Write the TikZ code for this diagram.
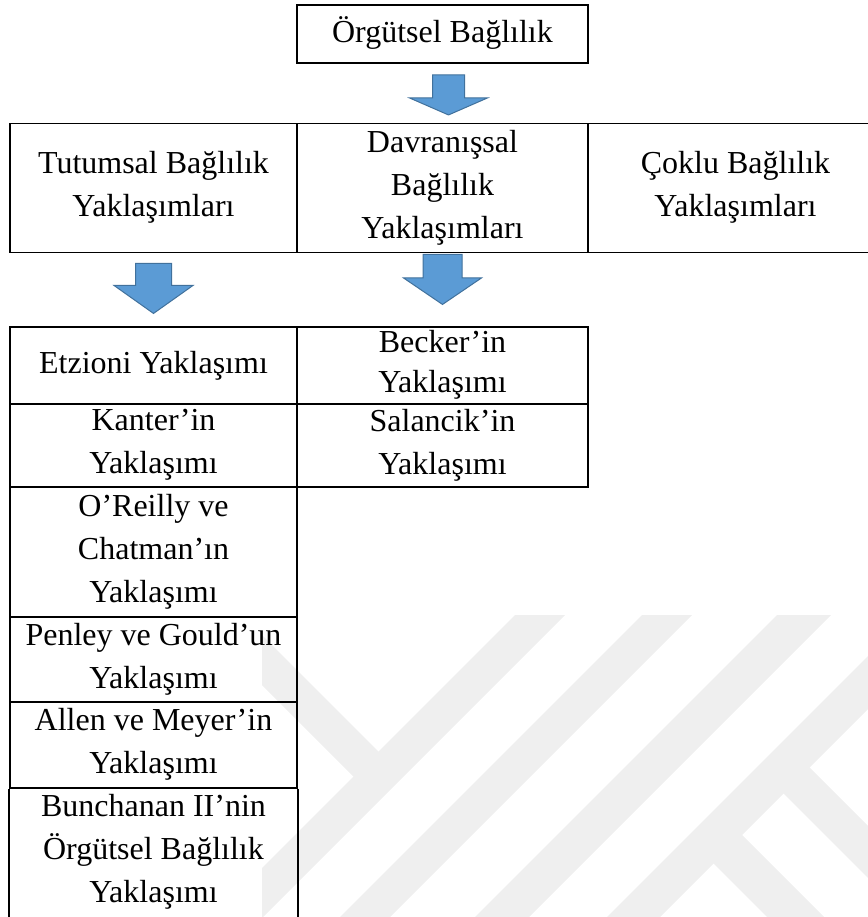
\documentclass[tikz,border=0pt]{standalone}
\usepackage{fontspec}
\setmainfont{Liberation Serif}
\usetikzlibrary{calc}
\definecolor{abfill}{HTML}{5B9BD5}
\definecolor{abline}{HTML}{41719C}
\definecolor{wmark}{HTML}{EFEFEF}
\newcommand\cstrut{\rule[-8pt]{0pt}{32pt}}
\newcommand\barrow[5]{\draw[barrowsty] ($(#1)+(-#2,0)$) -- ($(#1)+(#2,0)$) -- ($(#1)+(#2,#4)$) -- ($(#1)+(#3,#4)$) -- ($(#1)+(0,#5)$) -- ($(#1)+(-#3,#4)$) -- ($(#1)+(-#2,#4)$) -- cycle;}
\tikzset{
  txt/.style={inner sep=0pt, align=center, font=\fontsize{32}{43}\selectfont,
    execute at begin node=\cstrut, execute at end node=\cstrut},
  cell/.style={txt, draw=black, line width=1.9pt},
  tblline/.style={draw=black, line width=1.9pt},
  barrowsty/.style={fill=abfill, draw=abline, line width=1pt, line join=miter},
  wm/.style={fill=wmark, draw=none}
}
\begin{document}
\begin{tikzpicture}[x=1pt, y=-1pt]
\useasboundingbox (0,0) rectangle (867,917);
% watermark
\begin{scope}
\clip (262,612) rectangle (870,920);
\fill[wm] (515,615) -- (565,615) -- (250,930) -- (200,930) -- cycle;
\fill[wm] (642,615) -- (692,615) -- (377,930) -- (327,930) -- cycle;
\fill[wm] (777,615) -- (831,615) -- (516,930) -- (462,930) -- cycle;
\fill[wm] (909,615) -- (962,615) -- (647,930) -- (594,930) -- cycle;
\fill[wm] (200,573) -- (388.5,761.5) -- (363.5,786.5) -- (200,623) -- cycle;
\fill[wm] (801,759) -- (900,858) -- (900,910) -- (775,785) -- cycle;
\fill[wm] (733.5,826.5) -- (900,993) -- (900,1050) -- (705,855) -- cycle;
\end{scope}
% top
\node[cell, minimum width=291pt, minimum height=58pt] (org) at (442.5,34) {Örgütsel Bağlılık};
% main row
\node[cell, minimum width=287pt, minimum height=129pt] (tut) at (153.5,188) {Tutumsal Bağlılık\\Yaklaşımları};
\node[cell, minimum width=291pt, minimum height=129pt] (dav) at (442.5,188) {Davranışsal\\Bağlılık\\Yaklaşımları};
\node[cell, minimum width=295pt, minimum height=129pt] (cok) at (735.5,188) {Çoklu Bağlılık\\Yaklaşımları};
% left column
\node[cell, minimum width=287pt, minimum height=77pt] (etz) at (153.5,365.5) {Etzioni Yaklaşımı};
\node[cell, minimum width=287pt, minimum height=83pt] (kan) at (153.5,445.5) {Kanter’in\\Yaklaşımı};
\node[cell, minimum width=287pt, minimum height=130pt] (ore) at (153.5,552) {O’Reilly ve\\Chatman’ın\\Yaklaşımı};
\node[cell, minimum width=287pt, minimum height=85pt] (pen) at (153.5,659.5) {Penley ve Gould’un\\Yaklaşımı};
\node[cell, minimum width=287pt, minimum height=86pt] (all) at (153.5,745) {Allen ve Meyer’in\\Yaklaşımı};
\node[txt, minimum width=287pt, minimum height=129pt] (bun) at (153.5,852.5) {Bunchanan II’nin\\Örgütsel Bağlılık\\Yaklaşımı};
\draw[tblline] (all.south west) -- ++(0,150);
\draw[tblline] (all.south east) -- ++(0,150);
% second column
\node[cell, minimum width=291pt, minimum height=77pt, font=\fontsize{32}{40}\selectfont] (bec) at (442.5,365.5) {Becker’in\\Yaklaşımı};
\node[cell, minimum width=291pt, minimum height=83pt] (sal) at (442.5,445.5) {Salancik’in\\Yaklaşımı};
% block arrows
\coordinate (a1) at ($(org.south)+(6,11)$);
\barrow{a1}{16}{39}{23}{40}
\coordinate (a2) at ($(tut.south)+(0,10)$);
\barrow{a2}{18}{39.5}{22}{50}
\coordinate (a3) at ($(dav.south)+(0,1)$);
\barrow{a3}{19.5}{39}{23.5}{50}
\end{tikzpicture}
\end{document}
